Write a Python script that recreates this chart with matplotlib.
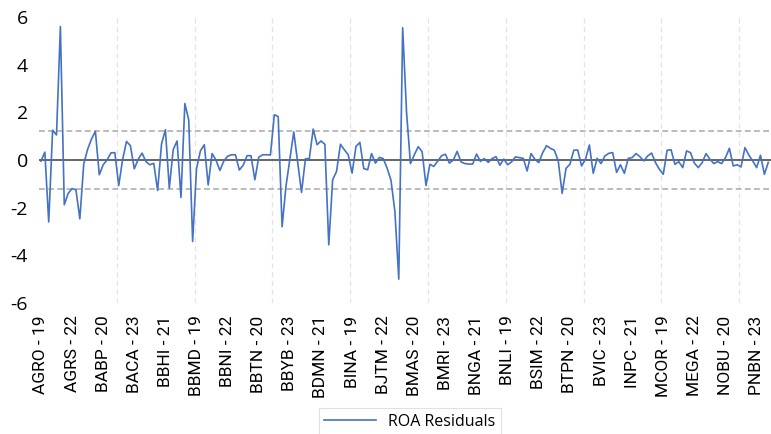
import matplotlib
matplotlib.use("Agg")
import matplotlib.pyplot as plt
from matplotlib import font_manager

# ---- data ----
banks_labels = ["AGRO - 19", "AGRS - 22", "BABP - 20", "BACA - 23", "BBHI - 21", "BBMD - 19",
                "BBNI - 22", "BBTN - 20", "BBYB - 23", "BDMN - 21", "BINA - 19", "BJTM - 22",
                "BMAS - 20", "BMRI - 23", "BNGA - 21", "BNLI - 19", "BSIM - 22", "BTPN - 20",
                "BVIC - 23", "INPC - 21", "MCOR - 19", "MEGA - 22", "NOBU - 20", "PNBN - 23"]
label_step = 8

roa_residuals = [
    -0.05, 0.33, -2.6, 1.25, 1.05, 5.6, -1.88, -1.4, -1.2, -1.25,
    -2.47, -0.17, 0.45, 0.88, 1.2, -0.62, -0.2, 0.0, 0.3, 0.31,
    -1.07, 0.02, 0.78, 0.6, -0.37, 0.03, 0.29, -0.07, -0.2, -0.14,
    -1.28, 0.67, 1.27, -1.18, 0.43, 0.8, -1.57, 2.37, 1.68, -3.42,
    -0.36, 0.38, 0.64, -1.05, 0.27, 0.0, -0.44, -0.05, 0.16, 0.22,
    0.22, -0.42, -0.22, 0.18, 0.18, -0.83, 0.12, 0.22, 0.22, 0.21,
    1.9, 1.82, -2.8, -1.1, 0.05, 1.18, -0.1, -1.36, 0.05, 0.06,
    1.3, 0.64, 0.8, 0.66, -3.56, -0.83, -0.48, 0.66, 0.43, 0.22,
    -0.55, 0.57, 0.74, -0.36, -0.41, 0.27, -0.13, 0.11, 0.06, -0.34,
    -0.85, -2.16, -5.0, 5.55, 2.0, -0.15, 0.22, 0.56, 0.35, -1.07,
    -0.18, -0.27, -0.05, 0.18, 0.24, -0.13, -0.01, 0.36, -0.08, -0.15,
    -0.17, -0.17, 0.25, -0.06, 0.06, -0.1, 0.06, 0.14, -0.22, 0.04,
    -0.2, -0.08, 0.13, 0.1, 0.07, -0.46, 0.27, 0.03, -0.11, 0.31,
    0.6, 0.49, 0.41, -0.04, -1.4, -0.35, -0.18, 0.41, 0.42, -0.25,
    0.03, 0.63, -0.56, 0.07, -0.15, 0.17, 0.28, 0.31, -0.52, -0.2,
    -0.56, 0.07, 0.1, 0.27, 0.14, -0.04, 0.17, 0.29, -0.11, -0.39,
    -0.6, 0.41, 0.43, -0.18, -0.07, -0.32, 0.38, 0.31, -0.13, -0.32,
    -0.11, 0.27, 0.03, -0.15, -0.07, -0.15, 0.1, 0.49, -0.25, -0.2,
    -0.29, 0.52, 0.21, -0.04, -0.32, 0.2, -0.6, -0.1,
]
upper_band = 1.2
lower_band = -1.2

# ---- fonts ----
avail = {f.name for f in font_manager.fontManager.ttflist}
xfont = ["Liberation Sans Narrow", "DejaVu Sans"] if "Liberation Sans Narrow" in avail else ["Roboto", "DejaVu Sans"]
yfont = ["Open Sans", "DejaVu Sans"]

W, H = 771, 434
fig = plt.figure(figsize=(W / 100, H / 100), dpi=100)
ax = fig.add_axes([39 / W, 1 - 303 / H, (771 - 39) / W, (303 - 17) / H])

x = list(range(len(roa_residuals)))
ax.plot(x, roa_residuals, color="#4472C4", lw=1.2, label="ROA Residuals", zorder=4)
ax.axhline(0, color="#595959", lw=1.3, zorder=3)
ax.axhline(upper_band, color="#AFAFAF", lw=1.2, ls=(0, (3.5, 2)), zorder=2)
ax.axhline(lower_band, color="#AFAFAF", lw=1.2, ls=(0, (3.5, 2)), zorder=2)

for gx in range(19, len(roa_residuals), 20):
    ax.axvline(gx + 0.5, color="#E3E3E3", lw=0.9, ls=(0, (4, 3)), zorder=1)

ax.set_xlim(-0.5, 187.7)
ax.set_ylim(-6, 6)
ax.set_yticks(range(-6, 7, 2))
ax.set_yticklabels([str(v) for v in range(-6, 7, 2)], fontfamily=yfont, fontsize=14)

ticks = [i * label_step for i in range(len(banks_labels))]
ax.set_xticks(ticks)
ax.set_xticklabels(banks_labels, rotation=90, fontfamily=xfont, fontsize=12.5)
ax.tick_params(axis="both", length=0)
ax.tick_params(axis="y", pad=8)
ax.tick_params(axis="x", pad=9)
for s in ax.spines.values():
    s.set_visible(False)

leg = fig.legend(loc="upper center", bbox_to_anchor=(410 / W, 1 - 408 / H),
                 prop={"family": yfont, "size": 11.5}, frameon=True, fancybox=False,
                 handlelength=3.2, borderpad=0.35, borderaxespad=0,
                 edgecolor="#D9D9D9")
leg.get_frame().set_linewidth(0.8)

fig.savefig("out.png", dpi=100)
